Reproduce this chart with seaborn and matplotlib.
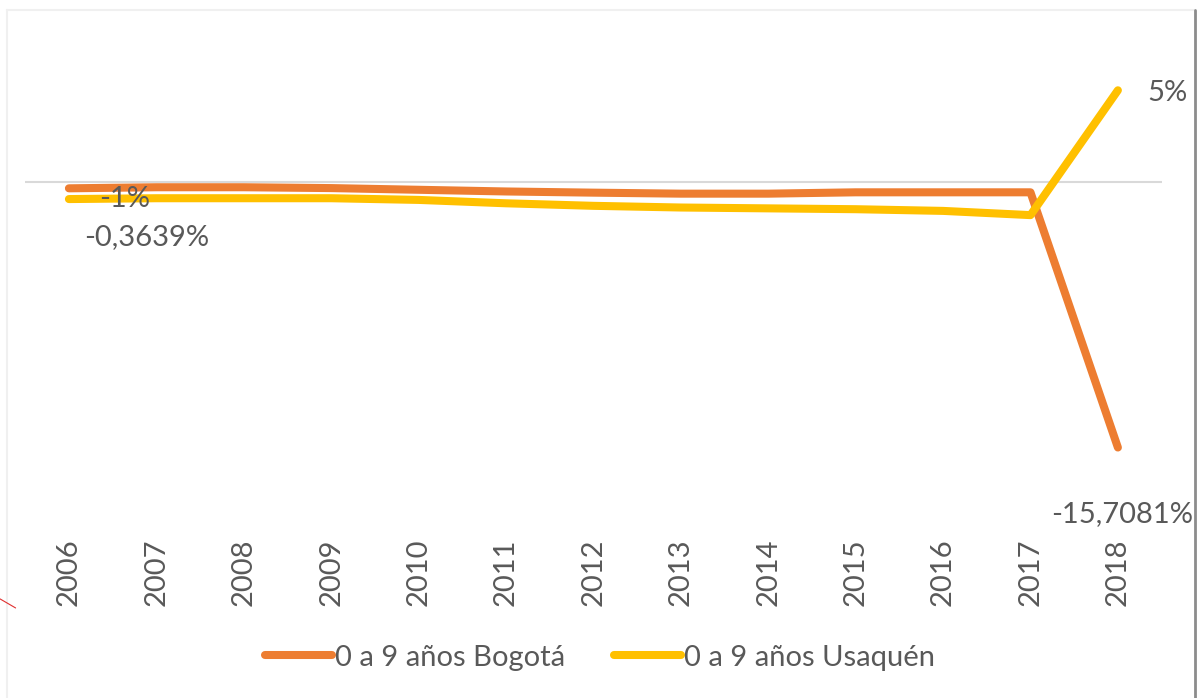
import matplotlib.pyplot as plt
import numpy as np
import pandas as pd
import seaborn as sns
from matplotlib.lines import Line2D

years = [2006, 2007, 2008, 2009, 2010, 2011, 2012, 2013, 2014, 2015, 2016, 2017, 2018]
bogota = [-0.3639, -0.30, -0.30, -0.35, -0.45, -0.55, -0.62, -0.68, -0.68, -0.60, -0.60, -0.60, -15.7081]
usaquen = [-1.0, -0.95, -0.95, -0.95, -1.05, -1.25, -1.40, -1.50, -1.55, -1.60, -1.70, -1.95, 5.44]
series_names = ["0 a 9 años Bogotá", "0 a 9 años Usaquén"]
colors = ["#ED7D31", "#FFC000"]

df = pd.DataFrame({
    "year": years * 2,
    "value": bogota + usaquen,
    "serie": [series_names[0]] * len(years) + [series_names[1]] * len(years),
})

sns.set_style("white")
plt.rcParams["font.family"] = ["Lato", "DejaVu Sans"]
text_color = "#595959"
fs = 21

fig = plt.figure(figsize=(12, 6.98), dpi=100)
ax = fig.add_axes([0.021, 0.255, 0.947, 0.726])

sns.lineplot(data=df, x="year", y="value", hue="serie", palette=colors,
             linewidth=5.8, ax=ax, legend=False)
for line in ax.get_lines():
    line.set_solid_capstyle("round")
    line.set_solid_joinstyle("round")

ax.axhline(0, color="#d9d9d9", linewidth=1.5, zorder=0)
ax.set_xlim(years[0] - 0.5, years[-1] + 0.5)
ax.set_ylim(-20, 10)
ax.set_yticks([])
ax.set_xticks(years)
ax.set_xticklabels([str(y) for y in years], rotation=90, fontsize=fs, color=text_color)
ax.tick_params(axis="x", length=0, pad=13)
ax.set_xlabel("")
ax.set_ylabel("")
for s in ax.spines.values():
    s.set_visible(False)

# data labels
ax.annotate("-1%", (years[0], usaquen[0]), xytext=(22, 0), textcoords="offset points",
            fontsize=fs, color=text_color, va="center")
ax.annotate("-0,3639%", (years[0], bogota[0]), xytext=(11, -35), textcoords="offset points",
            fontsize=fs, color=text_color, va="center")
ax.annotate("5%", (years[-1], usaquen[-1]), xytext=(21.5, -2), textcoords="offset points",
            fontsize=fs, color=text_color, va="center")
ax.annotate("-15,7081%", (years[-1], bogota[-1]), xytext=(3, -48), textcoords="offset points",
            fontsize=fs, color=text_color, va="center", ha="center")

# legend
handles = [Line2D([0], [0], color=c, linewidth=5.8, solid_capstyle="round") for c in colors]
fig.legend(handles, series_names, loc="center", bbox_to_anchor=(0.5, 0.058), ncol=2,
           frameon=False, fontsize=fs, labelcolor=text_color, handlelength=2.3,
           handletextpad=0.1, columnspacing=1.7)

# chart area border like the screenshot
fig.add_artist(Line2D([0.006, 0.006], [0, 0.986], color="#f0f0f0", linewidth=1.5))
fig.add_artist(Line2D([0.006, 0.996], [0.986, 0.986], color="#f0f0f0", linewidth=1.5))
fig.add_artist(Line2D([0.996, 0.996], [0, 0.986], color="#8c8c8c", linewidth=2))
fig.add_artist(Line2D([0.0, 0.013], [0.142, 0.129], color="#e03030", linewidth=0.8))

fig.savefig("out.png", dpi=100)
